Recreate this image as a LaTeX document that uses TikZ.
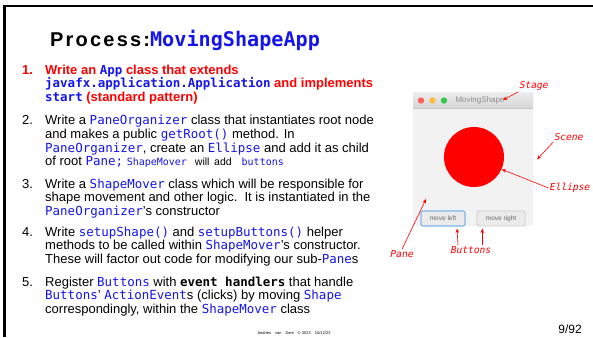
\documentclass[tikz,border=0pt]{standalone}
\usepackage{fontspec}
\setmainfont{Liberation Sans}
\newfontfamily\codefont[Scale=0.96]{DejaVu Sans Mono}
\usetikzlibrary{arrows.meta}

\definecolor{codeblue}{RGB}{20,20,235}
\definecolor{slidered}{RGB}{255,0,0}
\definecolor{winbody}{RGB}{242,242,242}
\definecolor{dotred}{RGB}{252,96,92}
\definecolor{dotyellow}{RGB}{253,188,64}
\definecolor{dotgreen}{RGB}{52,200,74}
\definecolor{focusblue}{RGB}{128,180,232}

\newcommand{\bodysize}{\fontsize{13}{13.8}\selectfont}
\newcommand{\code}[1]{{\codefont\color{codeblue}#1}}
\newcommand{\codeb}[1]{{\codefont\bfseries\color{codeblue}#1}}
\newcommand{\smallcode}[1]{{\fontsize{10.4}{12}\selectfont\codefont\color{codeblue}#1}}

\tikzset{
  itemtext/.style={anchor=base west, align=left, inner sep=0pt, font=\bodysize},
  itemnum/.style={anchor=base west, inner sep=0pt, font=\bodysize},
  callout/.style={text=slidered, inner sep=1pt, font=\fontsize{10}{12}\selectfont\codefont\itshape},
  pointer/.style={draw=slidered, line width=0.6pt, -{Stealth[length=4.5pt,width=3.5pt]}},
  winbutton/.style={rounded corners=2pt, fill=black!8, draw=black!20, line width=0.8pt, minimum width=44pt, minimum height=15pt, inner sep=0pt, text=black!60, font=\fontsize{6.5}{7}\selectfont},
}

\begin{document}
\begin{tikzpicture}[x=1pt,y=1pt,yscale=-1]
\useasboundingbox (0,0) rectangle (593,337);

%Straight Lines: slide frame
\draw [line width=2.4pt] (593,6.2) -- (4.5,6.2) -- (4.5,337) ;

% Text Node: title
\draw (50,46.7) node (title) [anchor=base west, inner sep=0pt, font=\fontsize{20}{24}\selectfont\bfseries] {{\addfontfeature{LetterSpace=11}Process:}{\fontsize{21}{24}\selectfont\codeb{MovingShapeApp}}};

% Text Node: item 1 (base = last line)
\draw (22,74) node (num1) [itemnum, text=slidered, font=\bodysize\bfseries] {1.};
\draw (45,101.6) node (item1) [itemtext, text=slidered, font=\bodysize\bfseries] {Write an \codeb{App} class that extends\\
\codeb{javafx.application.Application} and implements\\
\codeb{start} (standard pattern)};

% Text Node: item 2
\draw (22,124.5) node (num2) [itemnum] {2.};
\draw (45,165.9) node (item2) [itemtext] {Write a \code{PaneOrganizer} class that instantiates root node\\
and makes a public \code{getRoot()} method. In\\
\code{PaneOrganizer}, create an \code{Ellipse} and add it as child\\
of root \code{Pane;} \smallcode{ShapeMover}\hspace{8pt}{\fontsize{10.5}{12}\selectfont will\, add}\hspace{10pt}\smallcode{buttons}};

% Text Node: item 3
\draw (22,188) node (num3) [itemnum] {3.};
\draw (45,215.6) node (item3) [itemtext] {Write a \code{ShapeMover} class which will be responsible for\\
shape movement and other logic.\ \ It is instantiated in the\\
\code{PaneOrganizer}'s constructor};

% Text Node: item 4
\draw (22,236) node (num4) [itemnum] {4.};
\draw (45,263.6) node (item4) [itemtext] {Write \code{setupShape()} and \code{setupButtons()} helper\\
methods to be called within \code{ShapeMover}'s constructor.\\
These will factor out code for modifying our sub-\code{Pane}s};

% Text Node: item 5
\draw (22,286) node (num5) [itemnum] {5.};
\draw (45,313.6) node (item5) [itemtext] {Register \code{Buttons} with {\codefont\bfseries event handlers} that handle\\
\code{Buttons}' \code{ActionEvent}s (clicks) by moving \code{Shape}\\
correspondingly, within the \code{ShapeMover} class};

%Shape: Rectangle: window
\fill [winbody] (413,92) rectangle (533,226) ;
\shade [top color=black!7, bottom color=black!16] (413,92) rectangle (533,108) ;
\draw [black!22, line width=0.5pt] (413,108) -- (533,108) ;
%Shape: Circle: window controls
\fill [dotred] (421,100.5) circle (3.2) ;
\fill [dotyellow] (432.5,100.5) circle (3.2) ;
\fill [dotgreen] (444,100.5) circle (3.2) ;
\draw (480,100.5) node (wintitle) [inner sep=0pt, text=black!45, font=\fontsize{8}{9}\selectfont] {MovingShape};

%Shape: Circle: ellipse
\draw (474,157) node (ellipse) [circle, fill=slidered, minimum size=60pt, inner sep=0pt] {};

%Shape: buttons
\draw (443,218.5) node (btnleft) [winbutton, draw=focusblue, line width=1.2pt] {move left};
\draw (501,218.5) node (btnright) [winbutton, minimum width=48pt] {move right};

% Text Node: callouts
\draw (534,86) node (lblstage) [callout] {Stage};
\draw (569,137) node (lblscene) [callout] {Scene};
\draw (570,188) node (lblellipse) [callout] {Ellipse};
\draw (402,254) node (lblpane) [callout] {Pane};
\draw (471,250) node (lblbuttons) [callout] {Buttons};

\coordinate (stagetip) at (503,100);
\coordinate (scenetip) at (537,159.5);
\coordinate (panetip) at (426,199);
\coordinate (lefttip) at (457,228.5);
\coordinate (righttip) at (482.3,228.5);

%Straight Lines: pointers
\draw [pointer] (lblstage.south west) -- (stagetip) ;
\draw [pointer] (lblscene.south west) -- (scenetip) ;
\draw [pointer] (lblellipse.west) -- (ellipse.-24) ;
\draw [pointer] (lblpane.north) -- (panetip) ;
\draw [pointer] ([xshift=-13pt]lblbuttons.north) -- (lefttip) ;
\draw [pointer] ([xshift=11.3pt]lblbuttons.north) -- (righttip) ;

% Text Node: footer
\draw (294,334) node (footer) [anchor=base, inner sep=0pt, font=\fontsize{4}{5}\selectfont] {Andries\quad van\quad Dam\quad \copyright\ 2023\quad 10/12/23};
\draw (570,333) node (pagenum) [anchor=base, inner sep=0pt, font=\fontsize{12}{14}\selectfont] {9/92};

\end{tikzpicture}
\end{document}
